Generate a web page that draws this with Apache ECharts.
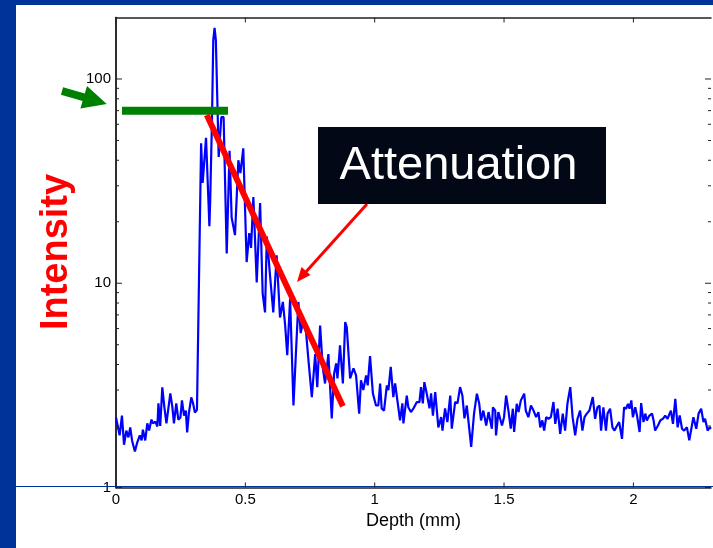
<!DOCTYPE html>
<html>
<head>
<meta charset="utf-8">
<script src="https://cdn.jsdelivr.net/npm/echarts/dist/echarts.min.js"></script>
<style>
  html, body { margin: 0; padding: 0; background: #003399; }
  #paper { position: absolute; left: 16px; top: 5px; width: 697px; height: 543px; background: #fff; }
  #chart { position: absolute; left: 0; top: 0; width: 713px; height: 548px; }
</style>
</head>
<body>
<div id="paper"></div>
<div id="chart"></div>
<script>
// measured trace, [depth mm, intensity]
var baseline = [[0.0,2.2],[0.014,1.8],[0.023,2.25],[0.031,1.62],[0.040,1.9],[0.048,1.76],[0.055,1.97],[0.062,1.7],
  [0.073,1.5],[0.082,1.66],[0.092,1.8],[0.099,1.7],[0.104,1.92],[0.113,1.7],[0.121,2.06],[0.128,1.9],[0.137,2.15],
  [0.143,2.06],[0.152,2.1],[0.160,1.99],[0.164,2.58],[0.171,2.0],[0.179,3.09],[0.187,2.47],[0.195,2.06],[0.202,2.08],
  [0.210,2.89],[0.218,2.47],[0.224,2.06],[0.233,2.58],[0.241,2.15],[0.249,2.2],[0.255,2.67],[0.263,2.25],[0.270,2.38],
  [0.275,1.86],[0.282,2.33],[0.291,2.76],[0.298,2.58],[0.305,2.33],[0.313,2.4]];

var peak = [[0.329,48.5],[0.335,31],[0.348,51.5],[0.361,19],[0.364,25],[0.371,63],[0.376,155],[0.381,178],[0.386,155],
  [0.392,76],[0.397,41.5],[0.407,65],[0.416,65],[0.428,14],[0.439,44.5],[0.447,21],[0.460,17.2],[0.473,40],[0.481,34.6],
  [0.492,45.8],[0.505,12.7],[0.515,17.6],[0.522,14.9],[0.531,26.4],[0.544,10.1],[0.557,24.7],[0.567,8.9],[0.576,7.2],
  [0.583,16.9],[0.596,10.7],[0.608,7.2],[0.621,13.7],[0.634,6.8],[0.645,8.1],[0.654,6.2]];

var decay = [[0.662,4.44],[0.673,8.4],[0.686,2.52],[0.696,4.69],[0.705,8.1],[0.714,5.7],[0.724,6.6],[0.735,5.7],
  [0.744,4.19],[0.757,2.77],[0.763,2.77],[0.770,4.5],[0.778,3.1],[0.789,6.2],[0.799,3.9],[0.808,3.23],[0.821,4.5],
  [0.834,2.18],[0.843,3.6],[0.851,4.05],[0.856,3.42],[0.866,4.96],[0.877,3.23],[0.886,6.45],[0.892,6.1],[0.905,3.42],
  [0.918,3.83],[0.928,3.54],[0.940,2.3],[0.947,3.35],[0.956,3.0],[0.967,3.54],[0.973,3.16],[0.982,4.4]];

var tail = [[0.993,2.89],[1.005,2.52],[1.014,2.52],[1.021,3.23],[1.027,2.44],[1.036,2.38],[1.047,3.16],[1.053,3.0],
  [1.062,3.9],[1.072,2.77],[1.079,3.23],[1.085,3.16],[1.098,2.13],[1.107,2.58],[1.111,2.06],[1.124,2.82],[1.130,2.47],
  [1.140,2.34],[1.150,2.44],[1.163,2.62],[1.173,2.62],[1.179,3.1],[1.186,2.58],[1.192,3.28],[1.201,2.89],[1.212,2.44],
  [1.218,2.89],[1.225,2.25],[1.234,2.93],[1.246,1.97],[1.257,2.21],[1.262,1.9],[1.272,2.44],[1.281,2.09],[1.292,2.82],
  [1.298,1.94],[1.311,2.62],[1.320,2.58],[1.330,3.1],[1.339,2.82],[1.347,2.18],[1.356,2.52],[1.362,2.47],[1.373,1.58],
  [1.384,2.3],[1.395,2.88],[1.404,2.58],[1.411,2.13],[1.420,2.38],[1.431,2.01],[1.440,2.34],[1.453,1.94],[1.457,2.47],
  [1.466,2.38],[1.469,1.8],[1.478,2.34],[1.485,2.3],[1.492,2.01],[1.500,2.21],[1.508,2.82],[1.517,2.38],[1.526,1.94],
  [1.534,2.43],[1.539,1.87],[1.549,2.57],[1.556,2.34],[1.565,2.67],[1.578,2.88],[1.584,2.38],[1.594,2.21],[1.604,2.52],
  [1.614,2.38],[1.624,2.21],[1.633,2.34],[1.640,1.97],[1.648,2.13],[1.655,1.9],[1.663,2.21],[1.672,2.17],[1.681,2.21],
  [1.691,2.62],[1.698,2.05],[1.707,2.43],[1.717,1.83],[1.727,2.3],[1.736,1.9],[1.745,2.57],[1.756,3.1],[1.765,2.21],
  [1.775,1.8],[1.784,2.17],[1.794,2.38],[1.803,1.9],[1.811,2.21],[1.820,2.3],[1.830,2.38],[1.843,2.77],[1.852,2.17],
  [1.861,2.47],[1.869,2.52],[1.875,1.9],[1.884,2.47],[1.894,1.9],[1.900,2.3],[1.910,2.43],[1.919,1.97],[1.927,1.9],
  [1.936,2.0],[1.945,2.09],[1.956,1.73],[1.964,2.47],[1.972,2.43],[1.979,2.57],[1.985,2.43],[1.992,2.67],[1.998,2.21],
  [2.007,2.47],[2.014,2.25],[2.024,1.87],[2.030,2.59],[2.039,2.09],[2.046,2.3],[2.052,2.13],[2.062,2.25],[2.072,2.3],
  [2.078,2.13],[2.084,1.9],[2.095,2.01],[2.104,2.13],[2.114,2.17],[2.123,2.25],[2.132,2.17],[2.140,2.3],[2.145,2.38],
  [2.153,2.05],[2.162,2.72],[2.171,1.97],[2.179,2.25],[2.188,1.94],[2.196,1.9],[2.207,1.97],[2.216,1.7],[2.224,1.94],
  [2.232,2.21],[2.243,1.94],[2.252,2.3],[2.262,2.43],[2.271,2.09],[2.277,2.17],[2.287,1.9],[2.295,1.97],[2.300,1.94]];

// annotations
var surfaceLevel = [[0.023,70],[0.433,70]];
var attenuationFit = [[0.351,66.6],[0.877,2.5]];

// ticks
var xTicks = [0, 0.5, 1, 1.5, 2];
var yTicks = [1, 10, 100];
var minorTicks = [2,3,4,5,6,7,8,9,20,30,40,50,60,70,80,90];

var xMin = 0, xMax = 2.3, yMin = 1, yMax = 200;
var axisColor = '#222';
var font = 'Liberation Sans, Arial, sans-serif';

var chart = echarts.init(document.getElementById('chart'));

// tick marks drawn inside the box on both sides
function yTickSeries(values, len) {
  return {
    type: 'custom', silent: true, z: 5,
    data: values.map(function (v) { return [xMin, v]; }),
    renderItem: function (params, api) {
      var v = api.value(1);
      var l = api.coord([xMin, v]);
      var r = api.coord([xMax, v]);
      var st = { stroke: axisColor, lineWidth: 1 };
      return { type: 'group', children: [
        { type: 'line', shape: { x1: l[0], y1: l[1], x2: l[0] + len, y2: l[1] }, style: st },
        { type: 'line', shape: { x1: r[0] - len, y1: r[1], x2: r[0], y2: r[1] }, style: st }
      ] };
    }
  };
}

var option = {
  animation: false,
  grid: { left: 116, right: 2, top: 17.5, bottom: 60.5 },
  xAxis: [{
    type: 'value', min: xMin, max: xMax, interval: 0.5,
    name: 'Depth (mm)', nameLocation: 'middle', nameGap: 24,
    nameTextStyle: { color: '#000', fontSize: 18, fontFamily: font },
    axisLine: { lineStyle: { color: axisColor, width: 1.5 } },
    axisTick: { show: false },
    axisLabel: { color: '#000', fontSize: 15, fontFamily: font, margin: 5, showMaxLabel: false },
    splitLine: { show: false }
  }, {
    type: 'value', position: 'top', min: xMin, max: xMax, interval: 0.5,
    axisLine: { lineStyle: { color: axisColor, width: 1.5 } },
    axisTick: { show: false }, axisLabel: { show: false }, splitLine: { show: false }
  }],
  yAxis: [{
    type: 'log', logBase: 10, min: yMin, max: yMax, interval: 1,
    axisLine: { show: true, lineStyle: { color: axisColor, width: 1.5 } },
    axisTick: { show: false },
    axisLabel: { color: '#000', fontSize: 15, fontFamily: font, margin: 5, showMaxLabel: false },
    splitLine: { show: false }
  }, {
    type: 'log', logBase: 10, min: yMin, max: yMax, interval: 1, position: 'right',
    axisLine: { show: true, lineStyle: { color: axisColor, width: 1.5 } },
    axisTick: { show: false }, axisLabel: { show: false }, splitLine: { show: false }
  }],
  series: [
    yTickSeries(minorTicks, 3),
    yTickSeries(yTicks, 6),
    {
      type: 'custom', silent: true, z: 5,
      data: xTicks.map(function (v) { return [v, yMin]; }),
      renderItem: function (params, api) {
        var v = api.value(0);
        var b = api.coord([v, yMin]);
        var t = api.coord([v, yMax]);
        var st = { stroke: axisColor, lineWidth: 1 };
        return { type: 'group', children: [
          { type: 'line', shape: { x1: b[0], y1: b[1], x2: b[0], y2: b[1] - 5 }, style: st },
          { type: 'line', shape: { x1: t[0], y1: t[1], x2: t[0], y2: t[1] + 5 }, style: st }
        ] };
      }
    }, {
      type: 'line',
      data: baseline.concat(peak, decay, tail),
      showSymbol: false,
      lineStyle: { color: '#0000ff', width: 2.2 },
      z: 2
    }, {
      type: 'line',
      data: surfaceLevel,
      showSymbol: false,
      lineStyle: { color: '#008000', width: 8, cap: 'butt' },
      z: 3
    }, {
      type: 'line',
      data: attenuationFit,
      showSymbol: false,
      lineStyle: { color: '#ff0000', width: 6, cap: 'butt' },
      z: 4
    }
  ],
  graphic: [
    { type: 'line', shape: { x1: 16, y1: 486.5, x2: 713, y2: 486.5 }, style: { stroke: '#003399', lineWidth: 1.2 }, z: 1 },
    { type: 'text', x: 57, y: 252, rotation: Math.PI / 2,
      style: { text: 'Intensity', fill: '#ff0000', font: 'bold 38px ' + font, textAlign: 'center', textVerticalAlign: 'middle' } },
    { type: 'polygon', shape: { points: [[63.1,87.2],[84.8,93.4],[87.0,86.0],[106.7,104],[80.4,108.4],[82.6,101.0],[60.9,94.8]] },
      style: { fill: '#008000' } },
    { type: 'line', shape: { x1: 367, y1: 204, x2: 304, y2: 274 }, style: { stroke: '#ff0000', lineWidth: 3 }, z: 10 },
    { type: 'polygon', shape: { points: [[297, 282], [310.5, 275], [301.5, 267]] }, style: { fill: '#ff0000' }, z: 10 },
    { type: 'rect', shape: { x: 318, y: 127, width: 288, height: 77 }, style: { fill: '#020816' }, z: 10 },
    { type: 'text', x: 458.5, y: 166, z: 11,
      style: { text: 'Attenuation', fill: '#ffffff', font: '47px ' + font, textAlign: 'center', textVerticalAlign: 'middle' } }
  ]
};

chart.setOption(option);
</script>
</body>
</html>
